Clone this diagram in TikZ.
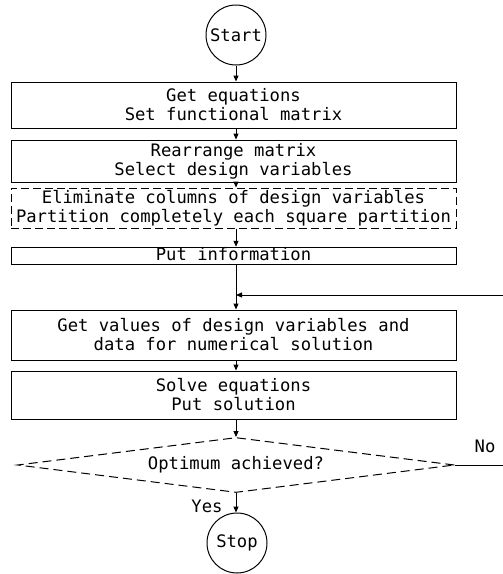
\documentclass[tikz,border=0pt]{standalone}
\usepackage{fontspec}
\newfontfamily\chartfont{DejaVu Sans Mono}
\usetikzlibrary{arrows.meta,shapes.geometric}
\begin{document}
\begin{tikzpicture}[x=1pt,y=-1pt,
  flowtext/.style={font=\chartfont\fontsize{17.2}{19}\selectfont, align=center},
  procbox/.style={draw, rectangle, line width=1pt, minimum width=445pt,
    inner sep=0pt, flowtext},
  dashbox/.style={procbox, dash pattern=on 8pt off 4pt},
  terminal/.style={draw, circle, line width=1pt, minimum size=60pt,
    inner sep=0pt, flowtext},
  decision/.style={draw, diamond, aspect=8, line width=1pt,
    minimum width=437pt, minimum height=55pt, inner sep=0pt,
    dash pattern=on 9pt off 5pt, flowtext},
  flow/.style={line width=1pt, -{Triangle[length=6pt,width=5pt]}}]
\useasboundingbox (0,0) rectangle (503,574);

% terminals and process steps
\node[terminal] (start) at (236,35) {Start};
\node[procbox, minimum height=46pt] (b1) at (233.5,105)
  {Get equations\\Set functional matrix};
\node[procbox, minimum height=42pt] (b2) at (233.5,161)
  {Rearrange matrix\\Select design variables};
\node[dashbox, minimum height=40pt] (b3) at (233.5,208)
  {Eliminate columns of design variables\\Partition completely each square partition};
\node[procbox, text height=13pt, text depth=4.5pt] (b4) at (233.5,256)
  {Put information};
\node[procbox, minimum height=50pt] (b5) at (233.5,335)
  {Get values of design variables and\\data for numerical solution};
\node[procbox, minimum height=48pt] (b6) at (233.5,395)
  {Solve equations\\Put solution};
\node[decision] (opt) at (236,465) {Optimum achieved?};
\node[terminal] (stop) at (237,543) {Stop};

% branch labels
\node[flowtext, inner sep=0pt] (yes) at (207,506) {Yes};
\node[flowtext, inner sep=0pt] (no) at (485,446) {No};

% loop-back rail (runs along the right edge) and its junction on the main line
\coordinate (join) at (236,295);
\coordinate (rail) at (503.3,295);

% main flow
\draw[flow] (start.south) -- (start.south |- b1.north);
\draw[flow] (start |- b1.south) -- (start |- b2.north);
\draw[flow] (start |- b2.south) -- (start |- b3.north);
\draw[flow] (start |- b3.south) -- (start |- b4.north);
\draw[flow] (start |- b4.south) -- (start |- b5.north);
\draw[flow] (start |- b5.south) -- (start |- b6.north);
\draw[flow] (start |- b6.south) -- (opt.north);
\draw[flow] (opt.south) -- (opt.south |- stop.north);

% "No" branch back to the data input step
\draw[flow] (opt.east) -- (opt.east -| rail) -- (rail) -- (join);
\end{tikzpicture}
\end{document}
